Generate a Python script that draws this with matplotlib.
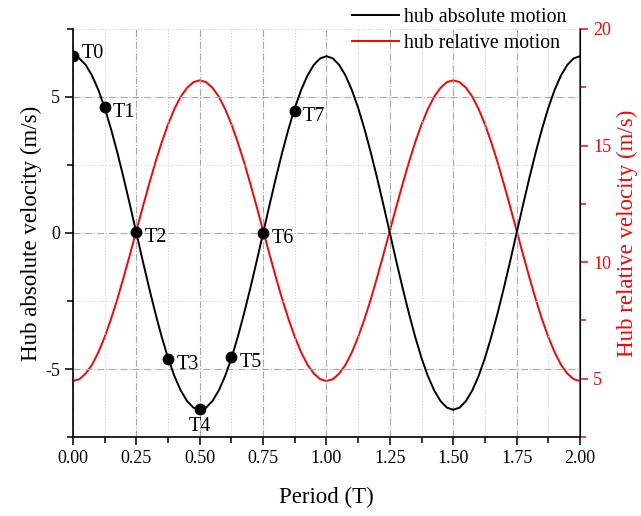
import matplotlib
matplotlib.use("Agg")
import matplotlib.pyplot as plt
from matplotlib.ticker import MultipleLocator

plt.rcParams["font.family"] = ["Liberation Serif", "DejaVu Serif"]
plt.rcParams["axes.unicode_minus"] = False

period = [i * 0.025 for i in range(81)]
abs_one = [6.50, 6.42, 6.18, 5.79, 5.26, 4.60, 3.82, 2.95, 2.01, 1.02,
           0.00, -1.02, -2.01, -2.95, -3.82, -4.60, -5.26, -5.79, -6.18, -6.42,
           -6.50, -6.42, -6.18, -5.79, -5.26, -4.60, -3.82, -2.95, -2.01, -1.02,
           0.00, 1.02, 2.01, 2.95, 3.82, 4.60, 5.26, 5.79, 6.18, 6.42]
rel_one = [4.90, 4.98, 5.22, 5.60, 6.13, 6.79, 7.56, 8.42, 9.36, 10.34,
           11.35, 12.36, 13.34, 14.28, 15.14, 15.91, 16.57, 17.10, 17.48, 17.72,
           17.80, 17.72, 17.48, 17.10, 16.57, 15.91, 15.14, 14.28, 13.34, 12.36,
           11.35, 10.34, 9.36, 8.42, 7.56, 6.79, 6.13, 5.60, 5.22, 4.98]
hub_absolute = abs_one + abs_one + [6.50]
hub_relative = rel_one + rel_one + [4.90]

# marked instants T0..T7
mark_t = [0.0, 0.125, 0.25, 0.375, 0.5, 0.625, 0.75, 0.875]
mark_v = [6.50, 4.63, 0.05, -4.62, -6.47, -4.55, 0.00, 4.49]
mark_names = ["T0", "T1", "T2", "T3", "T4", "T5", "T6", "T7"]

fig = plt.figure(figsize=(6.41, 5.16), dpi=100)
ax = fig.add_axes([0.1139, 0.1531, 0.7909, 0.7907])
ax2 = ax.twinx()

l1, = ax.plot(period, hub_absolute, color="black", lw=1.4, label="hub absolute motion")
l2, = ax2.plot(period, hub_relative, color="red", lw=1.4, label="hub relative motion")
ax.set_zorder(ax2.get_zorder() + 1)
ax.patch.set_visible(False)

ax.plot(mark_t, mark_v, "o", color="black", ms=7.5)
for t, v, name in zip(mark_t, mark_v, mark_names):
    if name == "T4":
        ax.text(t, v - 0.3, name, ha="center", va="top", fontsize=14.5)
    elif name == "T0":
        ax.text(t + 0.033, v + 0.1, name, ha="left", va="center", fontsize=14.5)
    else:
        ax.text(t + 0.033, v - 0.2, name, ha="left", va="center", fontsize=14.5)

ax.set_xlim(0, 2)
ax.set_ylim(-7.5, 7.5)
ax2.set_ylim(2.5, 20)

ax.xaxis.set_major_locator(MultipleLocator(0.25))
ax.xaxis.set_minor_locator(MultipleLocator(0.125))
ax.yaxis.set_major_locator(MultipleLocator(5))
ax.yaxis.set_minor_locator(MultipleLocator(2.5))
ax2.yaxis.set_major_locator(MultipleLocator(5))
ax2.yaxis.set_minor_locator(MultipleLocator(2.5))
ax.xaxis.set_major_formatter(matplotlib.ticker.FormatStrFormatter("%.2f"))

ax.grid(which="major", color="#a8a8a8", ls="-.", lw=0.8)
ax.grid(which="minor", color="#d0d0d0", ls=":", lw=0.8)

for a in (ax, ax2):
    a.spines["top"].set_visible(False)
    a.tick_params(which="major", direction="out", length=6, width=1.1, labelsize=13)
    a.tick_params(which="minor", direction="out", length=4, width=1.1)
for s in ("left", "bottom"):
    ax.spines[s].set_linewidth(1.2)
ax2.spines["left"].set_visible(False)
ax2.spines["bottom"].set_visible(False)
ax2.spines["right"].set_color("red")
ax2.spines["right"].set_linewidth(1.2)
ax2.tick_params(axis="y", which="both", colors="red")

ax.set_xlabel("Period (T)", fontsize=16.5, labelpad=14)
ax.set_ylabel("Hub absolute velocity (m/s)", fontsize=16.5, labelpad=2)
ax2.set_ylabel("Hub relative velocity (m/s)", fontsize=16.5, color="red", labelpad=4)

fig.legend(handles=[l1, l2], loc="upper left", bbox_to_anchor=(0.522, 1.02),
           frameon=False, fontsize=14.3, handlelength=2.35, labelspacing=0.35,
           handletextpad=0.25)

fig.savefig("out.png", dpi=100)
